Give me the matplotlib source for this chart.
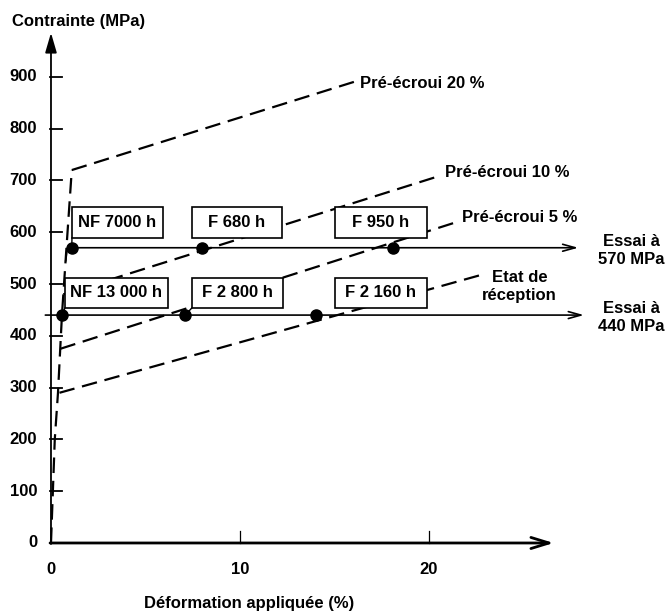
import matplotlib.pyplot as plt
from matplotlib.patches import Rectangle

plt.rcParams['font.family'] = ['Liberation Sans', 'DejaVu Sans']
plt.rcParams['font.weight'] = 'bold'

# y ticks / x ticks
y_ticks = [0, 100, 200, 300, 400, 500, 600, 700, 800, 900]
x_ticks = [0, 10, 20]

# common elastic part of the curves
elastic_x = [0, 0.2, 0.37, 0.58, 0.8, 1.1]
elastic_y = [0, 200, 290, 440, 560, 720]

# hardening branches (start, end)
branch_names = ["Etat de\nréception", "Pré-écroui 5 %", "Pré-écroui 10 %", "Pré-écroui 20 %"]
branch_x = [[0.45, 23.0], [0.5, 21.5], [0.65, 20.5], [1.1, 16.1]]
branch_y = [[290, 520], [375, 620], [480, 708], [720, 891]]

# creep tests
stress_high = 570
strain_high = [1.1, 8.0, 18.1]
labels_high = ["NF 7000 h", "F 680 h", "F 950 h"]
stress_low = 440
strain_low = [0.6, 7.1, 14.0]
labels_low = ["NF 13 000 h", "F 2 800 h", "F 2 160 h"]

fig = plt.figure(figsize=(6.72, 6.11), dpi=100)
ax = fig.add_axes([0, 0, 1, 1])
ax.set_xlim(-2.698, 32.86)
ax.set_ylim(-131.3, 1048.3)
ax.axis('off')

fs = 12
lw = 1.3

# axes with arrows
ax.annotate('', xy=(0, 985), xytext=(0, -2),
            arrowprops=dict(arrowstyle='-|>,head_length=1.2,head_width=0.35', color='black', lw=lw,
                            shrinkA=0, shrinkB=0))
ax.annotate('', xy=(26.6, 0), xytext=(-0.05, 0),
            arrowprops=dict(arrowstyle='->,head_length=1.3,head_width=0.4', color='black', lw=2,
                            shrinkA=0, shrinkB=0))

for t in y_ticks:
    ax.plot([-0.05, 0.58], [t, t], color='black', lw=lw)
    ax.text(-0.74, t, str(t), ha='right', va='center', fontsize=fs)
for t in x_ticks:
    if t > 0:
        ax.plot([t, t], [0, 23], color='black', lw=0.9)
    ax.text(t, -52, str(t), ha='center', va='center', fontsize=fs)

ax.text(-2.06, 1006, "Contrainte (MPa)", ha='left', va='center', fontsize=fs)
ax.text(10.5, -116, "Déformation appliquée (%)", ha='center', va='center', fontsize=fs)

# dashed curves
dash = dict(color='black', lw=1.6, dashes=(7, 3.5), zorder=2)
ax.plot(elastic_x, elastic_y, **dash)
for bx, by in zip(branch_x, branch_y):
    ax.plot(bx, by, **dash)

# branch labels
ax.text(16.35, 888, branch_names[3], ha='left', va='center', fontsize=fs)
ax.text(20.85, 716, branch_names[2], ha='left', va='center', fontsize=fs)
ax.text(21.75, 629, branch_names[1], ha='left', va='center', fontsize=fs)
ax.text(24.8, 496, branch_names[0], ha='center', va='center', fontsize=fs, linespacing=1.25)

# test lines
ax.annotate('', xy=(27.9, stress_high), xytext=(0.9, stress_high),
            arrowprops=dict(arrowstyle='->,head_length=0.9,head_width=0.25', color='black', lw=1.2,
                            shrinkA=0, shrinkB=0), zorder=3)
ax.plot([0.78, 0.85, 1.1], [545, 566, stress_high], color='black', lw=1.2, zorder=3)
ax.annotate('', xy=(28.2, stress_low), xytext=(-0.3, stress_low),
            arrowprops=dict(arrowstyle='->,head_length=0.9,head_width=0.25', color='black', lw=1.2,
                            shrinkA=0, shrinkB=0), zorder=3)
ax.plot(strain_high, [stress_high] * len(strain_high), 'o', color='black', ms=8, zorder=4)
ax.plot(strain_low, [stress_low] * len(strain_low), 'o', color='black', ms=8, zorder=4)

ax.text(30.7, 564, "Essai à\n570 MPa", ha='center', va='center', fontsize=fs, linespacing=1.25)
ax.text(30.7, 436, "Essai à\n440 MPa", ha='center', va='center', fontsize=fs, linespacing=1.25)

# boxes (x0, x1) and rows (y0, y1)
box_high_x = [(1.11, 5.93), (7.46, 12.22), (15.03, 19.89)]
box_high_y = (589, 649)
box_low_x = [(0.74, 6.19), (7.46, 12.28), (15.03, 19.89)]
box_low_y = (454, 512)

for (x0, x1), lab in zip(box_high_x, labels_high):
    ax.add_patch(Rectangle((x0, box_high_y[0]), x1 - x0, box_high_y[1] - box_high_y[0],
                           facecolor='white', edgecolor='black', lw=1.2, zorder=5))
    ax.text((x0 + x1) / 2, sum(box_high_y) / 2, lab, ha='center', va='center', fontsize=fs, zorder=6)
for (x0, x1), lab in zip(box_low_x, labels_low):
    ax.add_patch(Rectangle((x0, box_low_y[0]), x1 - x0, box_low_y[1] - box_low_y[0],
                           facecolor='white', edgecolor='black', lw=1.2, zorder=5))
    ax.text((x0 + x1) / 2, sum(box_low_y) / 2, lab, ha='center', va='center', fontsize=fs, zorder=6)

# leaders from points to boxes
ax.plot([strain_high[0], box_high_x[0][0]], [stress_high, box_high_y[0]], color='black', lw=1.0, zorder=3)
ax.plot([strain_low[0], box_low_x[0][0]], [stress_low, box_low_y[0]], color='black', lw=1.0, zorder=3)
ax.plot([strain_low[1], box_low_x[1][0]], [stress_low, box_low_y[0]], color='black', lw=1.0, zorder=3)

fig.savefig('out.png', dpi=100)
